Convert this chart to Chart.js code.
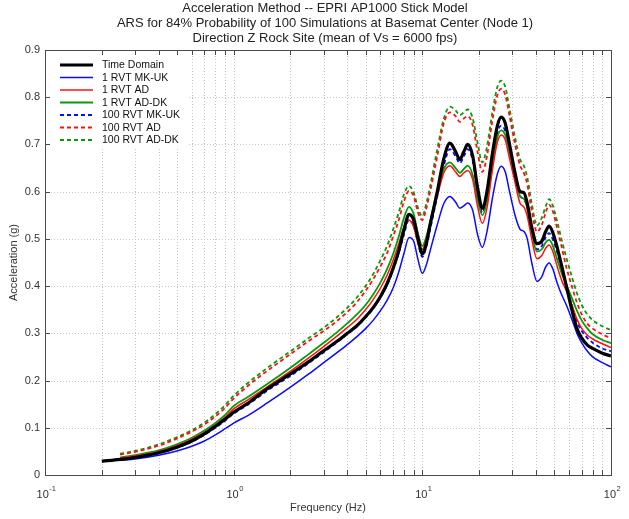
<!DOCTYPE html>
<html>
<head>
<meta charset="utf-8">
<script src="https://cdn.jsdelivr.net/npm/chart.js@4.4.0/dist/chart.umd.min.js"></script>
<style>
  html, body { margin: 0; padding: 0; background: #fff; }
  canvas { display: block; }
</style>
</head>
<body>
<canvas id="ars" width="629" height="519"></canvas>
<script>
// ---- Chart text ----
const titleLines = [
  'Acceleration Method -- EPRI AP1000 Stick Model',
  'ARS for 84% Probability of 100 Simulations at Basemat Center (Node 1)',
  'Direction Z Rock Site (mean of Vs = 6000 fps)'
];
const xAxisTitle = 'Frequency (Hz)';
const yAxisTitle = 'Acceleration (g)';

// ---- Tick labels ----
const xTickValues = [0.1, 1, 10, 100];
const xTickBase = ['10', '10', '10', '10'];
const xTickExp = ['-1', '0', '1', '2'];
const yTickValues = [0, 0.1, 0.2, 0.3, 0.4, 0.5, 0.6, 0.7, 0.8, 0.9];
const yTickLabels = ['0', '0.1', '0.2', '0.3', '0.4', '0.5', '0.6', '0.7', '0.8', '0.9'];

// ---- Series ----
const seriesNames = ['Time Domain', '1 RVT MK-UK', '1 RVT AD', '1 RVT AD-DK',
                     '100 RVT MK-UK', '100 RVT AD', '100 RVT AD-DK'];

const freqHz = [0.2, 0.25, 0.3, 0.4, 0.5, 0.6, 0.7, 0.8, 0.9, 1.0,
  1.2, 1.5, 2, 2.5, 3, 3.5, 4, 4.5, 5, 5.5,
  6, 6.5, 7, 7.5, 8, 8.5, 9, 9.5, 10, 10.5,
  11, 12, 13, 14, 15, 15.8, 16.6, 17.4, 18.5, 19.6,
  20.8, 22, 23.5, 25, 26.2, 27.5, 29, 31, 33, 34.5,
  36, 38, 40.5, 43, 45, 47, 49, 52, 55, 58,
  62, 66, 70, 75, 80, 90, 100];

const timeDomain = [0.029, 0.033, 0.037, 0.047, 0.059, 0.072, 0.087, 0.103, 0.118, 0.133,
  0.153, 0.182, 0.214, 0.240, 0.263, 0.282, 0.300, 0.316, 0.335, 0.355,
  0.378, 0.405, 0.438, 0.475, 0.520, 0.552, 0.540, 0.500, 0.468, 0.490,
  0.530, 0.600, 0.670, 0.703, 0.685, 0.668, 0.685, 0.700, 0.675, 0.610,
  0.565, 0.600, 0.680, 0.740, 0.758, 0.745, 0.700, 0.640, 0.600, 0.598,
  0.575, 0.525, 0.490, 0.495, 0.515, 0.527, 0.515, 0.480, 0.440, 0.400,
  0.350, 0.310, 0.290, 0.275, 0.268, 0.258, 0.252];

const rvt1MkUk = [null, 0.031, 0.034, 0.042, 0.051, 0.061, 0.072, 0.085, 0.098, 0.110,
  0.127, 0.152, 0.186, 0.214, 0.238, 0.258, 0.276, 0.293, 0.310, 0.328,
  0.348, 0.370, 0.396, 0.430, 0.470, 0.503, 0.495, 0.455, 0.427, 0.445,
  0.475, 0.530, 0.575, 0.590, 0.578, 0.565, 0.570, 0.576, 0.560, 0.510,
  0.482, 0.515, 0.585, 0.638, 0.654, 0.642, 0.600, 0.550, 0.520, 0.516,
  0.500, 0.450, 0.410, 0.420, 0.440, 0.449, 0.438, 0.405, 0.380, 0.360,
  0.330, 0.300, 0.280, 0.262, 0.250, 0.238, 0.229];

const rvt1Ad = [null, 0.036, 0.040, 0.050, 0.062, 0.076, 0.090, 0.106, 0.122, 0.140,
  0.160, 0.186, 0.220, 0.248, 0.272, 0.293, 0.312, 0.330, 0.350, 0.372,
  0.396, 0.423, 0.455, 0.490, 0.525, 0.540, 0.525, 0.490, 0.478, 0.500,
  0.530, 0.590, 0.640, 0.655, 0.642, 0.632, 0.640, 0.645, 0.625, 0.570,
  0.533, 0.565, 0.645, 0.705, 0.720, 0.710, 0.670, 0.620, 0.575, 0.568,
  0.548, 0.500, 0.458, 0.465, 0.480, 0.487, 0.475, 0.440, 0.410, 0.390,
  0.360, 0.330, 0.310, 0.296, 0.288, 0.278, 0.270];

const rvt1AdDk = [null, 0.037, 0.042, 0.052, 0.065, 0.079, 0.094, 0.110, 0.127, 0.146,
  0.166, 0.192, 0.227, 0.256, 0.280, 0.301, 0.321, 0.340, 0.360, 0.383,
  0.408, 0.436, 0.468, 0.505, 0.545, 0.568, 0.552, 0.510, 0.485, 0.505,
  0.538, 0.600, 0.648, 0.662, 0.650, 0.640, 0.648, 0.655, 0.635, 0.585,
  0.550, 0.580, 0.658, 0.716, 0.730, 0.720, 0.685, 0.635, 0.590, 0.585,
  0.565, 0.515, 0.473, 0.478, 0.492, 0.498, 0.487, 0.455, 0.425, 0.403,
  0.375, 0.348, 0.327, 0.310, 0.298, 0.286, 0.279];

const rvt100MkUk = [null, 0.032, 0.036, 0.046, 0.058, 0.070, 0.085, 0.100, 0.115, 0.130,
  0.150, 0.178, 0.210, 0.237, 0.260, 0.280, 0.298, 0.315, 0.333, 0.353,
  0.376, 0.402, 0.434, 0.470, 0.510, 0.540, 0.528, 0.490, 0.462, 0.483,
  0.520, 0.590, 0.655, 0.690, 0.675, 0.660, 0.675, 0.690, 0.665, 0.600,
  0.555, 0.590, 0.665, 0.725, 0.740, 0.728, 0.685, 0.630, 0.590, 0.585,
  0.565, 0.515, 0.478, 0.485, 0.503, 0.512, 0.500, 0.470, 0.435, 0.400,
  0.360, 0.325, 0.305, 0.290, 0.280, 0.268, 0.262];

const rvt100Ad = [null, 0.043, 0.049, 0.062, 0.077, 0.092, 0.107, 0.124, 0.142, 0.162,
  0.190, 0.220, 0.256, 0.284, 0.305, 0.325, 0.345, 0.366, 0.390, 0.415,
  0.442, 0.470, 0.505, 0.540, 0.580, 0.602, 0.590, 0.555, 0.540, 0.565,
  0.600, 0.675, 0.745, 0.768, 0.760, 0.748, 0.755, 0.760, 0.740, 0.685,
  0.642, 0.675, 0.750, 0.805, 0.818, 0.805, 0.760, 0.700, 0.655, 0.640,
  0.615, 0.560, 0.515, 0.530, 0.555, 0.572, 0.560, 0.520, 0.480, 0.440,
  0.400, 0.365, 0.340, 0.320, 0.310, 0.298, 0.290];

const rvt100AdDk = [null, 0.045, 0.051, 0.065, 0.080, 0.095, 0.111, 0.129, 0.148, 0.168,
  0.196, 0.226, 0.262, 0.290, 0.312, 0.333, 0.354, 0.376, 0.400, 0.426,
  0.455, 0.485, 0.520, 0.556, 0.595, 0.612, 0.598, 0.565, 0.548, 0.575,
  0.612, 0.690, 0.755, 0.780, 0.772, 0.762, 0.768, 0.774, 0.755, 0.705,
  0.662, 0.695, 0.768, 0.822, 0.835, 0.822, 0.775, 0.715, 0.668, 0.655,
  0.630, 0.575, 0.528, 0.545, 0.568, 0.584, 0.572, 0.535, 0.495, 0.460,
  0.420, 0.385, 0.360, 0.340, 0.328, 0.315, 0.307];

// ---- Styling ----
const FONT = '"Liberation Sans", Arial, Helvetica, sans-serif';
const BLUE = '#0a0aff', RED = '#ff1010', GREEN = '#0a9a0a';
const styles = [
  { color: '#000000', width: 3.2, dash: [] },
  { color: BLUE, width: 1.5, dash: [] },
  { color: RED, width: 1.5, dash: [] },
  { color: GREEN, width: 1.8, dash: [] },
  { color: BLUE, width: 1.8, dash: [4, 3] },
  { color: RED, width: 1.8, dash: [4, 3] },
  { color: GREEN, width: 1.8, dash: [4, 3] }
];
const seriesValues = [timeDomain, rvt1MkUk, rvt1Ad, rvt1AdDk, rvt100MkUk, rvt100Ad, rvt100AdDk];

const datasets = seriesNames.map((name, k) => ({
  label: name,
  data: freqHz.map((f, i) => ({ x: f, y: seriesValues[k][i] })),
  borderColor: styles[k].color,
  backgroundColor: styles[k].color,
  borderWidth: styles[k].width,
  borderDash: styles[k].dash,
  pointRadius: 0,
  fill: false,
  cubicInterpolationMode: 'monotone',
  spanGaps: false
}));

// Log-axis grid positions: every 1..9 x 10^n
const xGridValues = [];
for (let e = -1; e <= 1; e++) {
  for (let m = 1; m <= 9; m++) xGridValues.push(+(m * Math.pow(10, e)).toPrecision(3));
}
xGridValues.push(100);

function line(ctx, x1, y1, x2, y2) {
  ctx.beginPath(); ctx.moveTo(x1, y1); ctx.lineTo(x2, y2); ctx.stroke();
}

const axesFrame = {
  id: 'axesFrame',
  beforeDatasetsDraw(chart) {
    const { ctx, chartArea: a, scales: { x, y } } = chart;
    ctx.save();
    ctx.fillStyle = '#ffffff';
    ctx.fillRect(a.left, a.top, a.right - a.left, a.bottom - a.top);
    ctx.strokeStyle = '#c6c6c6';
    ctx.lineWidth = 1;
    ctx.setLineDash([1, 2]);
    xGridValues.forEach(v => {
      if (v <= 0.1 || v >= 100) return;
      const px = Math.round(x.getPixelForValue(v)) + 0.5;
      line(ctx, px, a.top, px, a.bottom);
    });
    yTickValues.forEach(v => {
      if (v <= 0 || v >= 0.9) return;
      const py = Math.round(y.getPixelForValue(v)) + 0.5;
      line(ctx, a.left, py, a.right, py);
    });
    ctx.restore();
  },
  afterDatasetsDraw(chart) {
    const { ctx, chartArea: a, scales: { x, y } } = chart;
    ctx.save();
    ctx.setLineDash([]);

    // Legend (inside plot, upper left)
    const lgX = 50, lgY = 56, lgW = 138, lgH = 92;
    ctx.fillStyle = '#ffffff';
    ctx.fillRect(lgX, lgY, lgW, lgH);
    ctx.font = '10.5px ' + FONT;
    ctx.textBaseline = 'middle';
    ctx.textAlign = 'left';
    chart.data.datasets.forEach((ds, k) => {
      const cy = 65 + k * 12.5;
      ctx.strokeStyle = ds.borderColor;
      ctx.lineWidth = ds.borderWidth;
      ctx.setLineDash(ds.borderDash || []);
      line(ctx, 60, cy, 93, cy);
      ctx.setLineDash([]);
      ctx.fillStyle = '#111';
      ctx.fillText(ds.label, 102, cy + 0.5);
    });

    // Axes box
    ctx.strokeStyle = '#4a4a4a';
    ctx.lineWidth = 1;
    ctx.strokeRect(Math.round(a.left) + 0.5, Math.round(a.top) + 0.5,
                   Math.round(a.right - a.left), Math.round(a.bottom - a.top));

    // Inward ticks
    const tl = 5;
    xGridValues.forEach(v => {
      const px = Math.round(x.getPixelForValue(v)) + 0.5;
      line(ctx, px, a.bottom, px, a.bottom - tl);
      line(ctx, px, a.top, px, a.top + tl);
    });
    yTickValues.forEach(v => {
      const py = Math.round(y.getPixelForValue(v)) + 0.5;
      line(ctx, a.left, py, a.left + tl, py);
      line(ctx, a.right, py, a.right - tl, py);
    });

    // Y tick labels
    ctx.fillStyle = '#333';
    ctx.font = '11px ' + FONT;
    ctx.textAlign = 'right';
    ctx.textBaseline = 'middle';
    yTickValues.forEach((v, i) => {
      ctx.fillText(yTickLabels[i], a.left - 5, y.getPixelForValue(v));
    });

    // X tick labels with superscript exponents
    xTickValues.forEach((v, i) => {
      const px = x.getPixelForValue(v);
      ctx.font = '11px ' + FONT;
      const wb = ctx.measureText(xTickBase[i]).width;
      ctx.font = '7.5px ' + FONT;
      const we = ctx.measureText(xTickExp[i]).width;
      const x0 = px - (wb + we) / 2 + 1;
      ctx.textAlign = 'left';
      ctx.textBaseline = 'alphabetic';
      ctx.font = '11px ' + FONT;
      ctx.fillText(xTickBase[i], x0, 498);
      ctx.font = '7.5px ' + FONT;
      ctx.fillText(xTickExp[i], x0 + wb + 0.5, 491);
    });

    // Axis titles
    ctx.font = '11px ' + FONT;
    ctx.textAlign = 'center';
    ctx.textBaseline = 'middle';
    ctx.fillText(xAxisTitle, (a.left + a.right) / 2, 508);
    ctx.save();
    ctx.translate(14, (a.top + a.bottom) / 2);
    ctx.rotate(-Math.PI / 2);
    ctx.fillText(yAxisTitle, 0, 0);
    ctx.restore();

    // Title
    ctx.fillStyle = '#222';
    ctx.font = '13px ' + FONT;
    titleLines.forEach((t, i) => ctx.fillText(t, 325, 8 + i * 15));

    ctx.restore();
  }
};

new Chart(document.getElementById('ars'), {
  type: 'line',
  data: { datasets },
  options: {
    responsive: false,
    animation: false,
    parsing: true,
    layout: { padding: { left: 45, right: 18, top: 50, bottom: 44 } },
    plugins: { legend: { display: false }, title: { display: false }, tooltip: { enabled: false } },
    elements: { line: { tension: 0.4 } },
    scales: {
      x: { type: 'logarithmic', min: 0.1, max: 100, display: false },
      y: { type: 'linear', min: 0, max: 0.9, display: false }
    }
  },
  plugins: [axesFrame]
});
</script>
</body>
</html>
